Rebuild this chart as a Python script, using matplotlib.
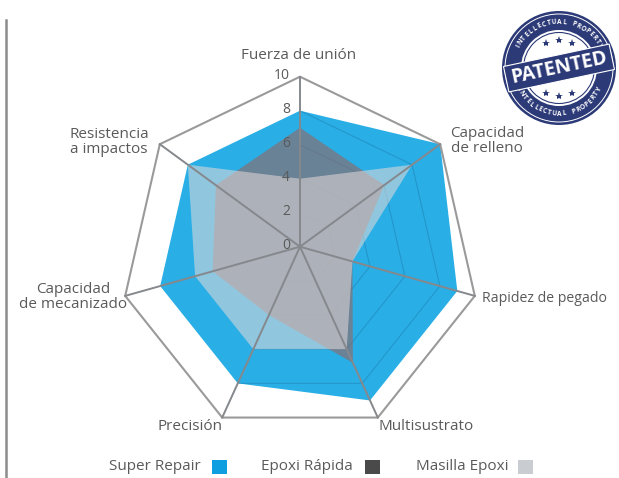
import numpy as np
import matplotlib
matplotlib.use("Agg")
import matplotlib.pyplot as plt
from matplotlib.patches import Circle, Polygon, Rectangle

plt.rcParams['font.family'] = ['Open Sans', 'DejaVu Sans']

categories = ['Fuerza de unión', 'Capacidad\nde relleno', 'Rapidez de pegado', 'Multisustrato',
              'Precisión', 'Capacidad\nde mecanizado', 'Resistencia\na impactos']
super_repair = [8, 10, 9, 9, 8, 8, 8]
epoxi_rapida = [7, 6, 3, 6.8, 4, 5, 6]
masilla_epoxi = [4, 8, 3, 6, 6, 6, 8]
ticks = [0, 2, 4, 6, 8, 10]
legend_names = ['Super Repair', 'Epoxi Rápida', 'Masilla Epoxi']
legend_colors = ['#0f9fe0', '#4a4a4a', '#c9ccd1']

text_color = '#5a5a5a'
navy = '#2c3a78'

# the spokes meet above the middle of the outer ring, so keep both points
hub = np.array([300.0, 246.7])
ring_center = np.array([300.0, 256.0])
ring_radius = 179.3

angles = np.arange(7) * 2 * np.pi / 7
outer = ring_center + ring_radius * np.column_stack([np.sin(angles), -np.cos(angles)])


def to_xy(values):
    values = np.asarray(values, dtype=float)[:, None] / 10
    return hub + values * (outer - hub)


fig = plt.figure(figsize=(6.19, 4.78), dpi=100)
ax = fig.add_axes([0, 0, 1, 1])
ax.set_xlim(0, 619)
ax.set_ylim(478, 0)
ax.axis('off')

# left rule
ax.plot([6, 6], [20, 478], color='#8c8c8c', lw=1.8, zorder=1)

# series
ax.add_patch(Polygon(to_xy(super_repair), closed=True, fc='#2aaee6', ec='none', zorder=2))
# inner rings only show on the right hand side
for t in ticks[1:-1]:
    ring = to_xy([t] * 7)[:5]
    ax.plot(ring[:, 0], ring[:, 1], color='#12608c', alpha=0.3, lw=0.8, zorder=3)
ax.add_patch(Polygon(to_xy(epoxi_rapida), closed=True, fc=(0.58, 0.40, 0.38), alpha=0.6, ec='none', zorder=4))
ax.add_patch(Polygon(to_xy(masilla_epoxi), closed=True, fc=(0.90, 0.86, 0.85), alpha=0.55, ec='none', zorder=5))

# grid
ax.add_patch(Polygon(to_xy([10] * 7), closed=True, fc='none', ec='#9a9a9a', lw=1.5, zorder=6))
for x, y in outer:
    ax.plot([hub[0], x], [hub[1], y], color='#85888c', lw=1.4, zorder=6)

# value labels
for t in ticks:
    ax.text(290, to_xy([t] * 7)[0][1] - 1, str(t), ha='right', va='center', fontsize=10,
            color=text_color, zorder=7)

# category labels
label_pos = [(299, 55), (487, 141), (482, 298), (378, 426), (190, 426), (73, 297), (109, 142)]
label_ha = ['center', 'center', 'left', 'left', 'center', 'center', 'center']
label_size = [11, 11, 10.2, 11, 11, 11, 11]
for name, pos, ha, size in zip(categories, label_pos, label_ha, label_size):
    ax.text(pos[0], pos[1], name, ha=ha, va='center', multialignment='center', fontsize=size,
            color=text_color, linespacing=0.92)

# legend
legend_text_x = [201, 353, 508]
legend_box_x = [212, 365, 518]
for name, color, tx, bx in zip(legend_names, legend_colors, legend_text_x, legend_box_x):
    ax.text(tx, 467, name, ha='right', va='center', fontsize=11, color=text_color)
    ax.add_patch(Rectangle((bx, 460), 15, 14, fc=color, ec='none'))

# patent stamp
cx, cy = 559, 68
ax.add_patch(Circle((cx, cy), 57, fc=navy, ec='none', zorder=8))
ax.add_patch(Circle((cx, cy), 54, fc='none', ec='white', lw=0.7, zorder=9))
ax.add_patch(Circle((cx, cy), 38, fc='white', ec='none', zorder=9))
ax.add_patch(Circle((cx, cy), 35.5, fc='none', ec=navy, lw=0.8, zorder=10))

ring_word = 'INTELLECTUAL PROPERTY'
arc = np.radians(np.linspace(-62, 62, len(ring_word)))
for ch, a in zip(ring_word, arc):
    ax.text(cx + 46 * np.sin(a), cy - 46 * np.cos(a), ch, rotation=-np.degrees(a), ha='center',
            va='center', fontsize=4.8, fontweight='bold', color='white', zorder=10)
for ch, a in zip(ring_word, arc):
    ax.text(cx + 46 * np.sin(a), cy + 46 * np.cos(a), ch, rotation=np.degrees(a), ha='center',
            va='center', fontsize=4.8, fontweight='bold', color='white', zorder=10)

for dx, dy in [(-13, -25), (0, -28), (13, -25), (-13, 25), (0, 28), (13, 25)]:
    ax.plot(cx + dx, cy + dy, marker='*', ms=6, color=navy, mew=0, zorder=11)

tilt = np.radians(12)
along = np.array([np.cos(tilt), -np.sin(tilt)])
across = np.array([np.sin(tilt), np.cos(tilt)])
center = np.array([cx, cy])
corners = [center - 54 * along - 13 * across, center + 54 * along - 13 * across,
           center + 54 * along + 13 * across, center - 54 * along + 13 * across]
ax.add_patch(Polygon(corners, closed=True, fc=navy, ec='white', lw=0.8, zorder=12))
ax.text(cx, cy, 'PATENTED', rotation=12, rotation_mode='anchor', ha='center', va='center',
        fontsize=14, fontweight='bold', color='white', zorder=13)

fig.savefig('out.png', dpi=100)
